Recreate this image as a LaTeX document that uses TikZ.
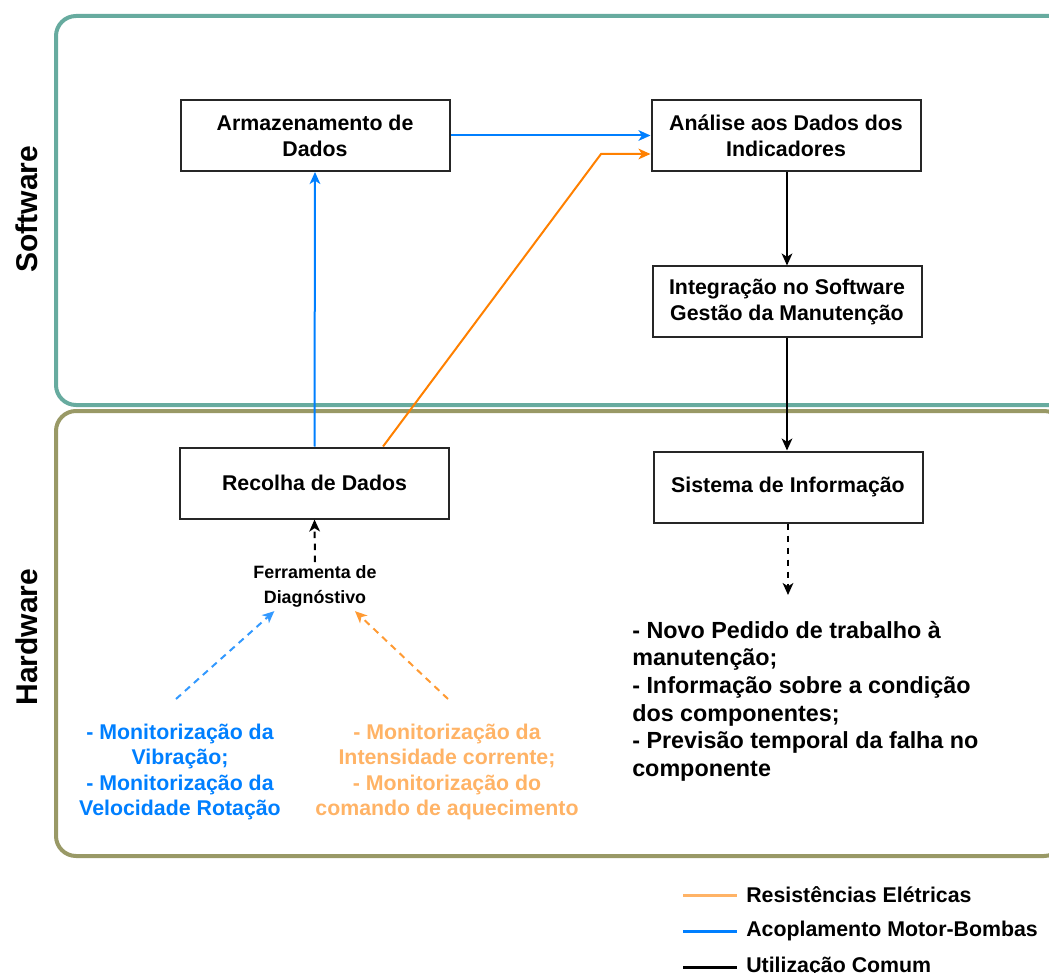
\documentclass[tikz,border=0pt]{standalone}
\usepackage{fontspec}
\setmainfont{Liberation Sans}
\usetikzlibrary{arrows.meta,calc}
\definecolor{swteal}{HTML}{67AB9F}
\definecolor{hwolive}{HTML}{999966}
\definecolor{acblue}{HTML}{007FFF}
\definecolor{dashblue}{HTML}{3399FF}
\definecolor{reorange}{HTML}{FF8000}
\definecolor{relight}{HTML}{FFB366}
\definecolor{boxline}{HTML}{262626}

\begin{document}
\begin{tikzpicture}[x=0.75pt,y=-0.75pt,
  container/.style={line width=3pt, rounded corners=15pt},
  stepbox/.style={draw=boxline, line width=1.5pt, minimum width=201.75pt,
    minimum height=53.25pt, align=center, inner sep=0pt,
    font=\fontsize{16}{19.5}\selectfont\bfseries},
  tipstyle/.style={-{Stealth[length=9pt,width=8pt,inset=2.5pt]}},
  flow/.style={line width=1.5pt, tipstyle},
  dflow/.style={line width=1.5pt, tipstyle, dash pattern=on 5pt off 4pt},
  sidelabel/.style={rotate=90, font=\fontsize{22.5}{27}\selectfont\bfseries},
  listtext/.style={align=center, inner sep=0pt, font=\fontsize{16}{19}\selectfont\bfseries},
  legendline/.style={line width=2.25pt},
  legendtext/.style={anchor=west, inner sep=0pt, font=\fontsize{16}{19}\selectfont\bfseries}
]
\useasboundingbox (0,0) rectangle (1049,973);

% layer containers
\draw[container, swteal] (56,16) rectangle (1085,405);
\draw[container, hwolive] (56,411) rectangle (1064,856);

\node[sidelabel] (swlabel) at (27,209) {Software};
\node[sidelabel] (hwlabel) at (27,637) {Hardware};

% process boxes
\node[stepbox] (arm) at (315,135.5) {Armazenamento de\\Dados};
\node[stepbox] (ana) at (786,135.5) {Análise aos Dados dos\\Indicadores};
\node[stepbox] (int) at (787,302) {Integração no Software\\Gestão da Manutenção};
\node[stepbox] (rec) at (314.5,483) {Recolha de Dados};
\node[stepbox] (sis) at (788,487) {Sistema de Informação};

\node[align=center, inner sep=2pt, font=\fontsize{13.4}{18.75}\selectfont\bfseries]
  (fer) at (315,586) {Ferramenta de\\Diagnóstivo};

\node[listtext, text=acblue] (vib) at (180,772)
  {- Monitorização da\\Vibração;\\- Monitorização da\\Velocidade Rotação};
\node[listtext, text=relight] (cor) at (447,772)
  {- Monitorização da\\Intensidade corrente;\\- Monitorização do\\comando de aquecimento};

\node[anchor=north west, align=left, inner sep=0pt,
  font=\fontsize{17.5}{20.7}\selectfont\bfseries] (out) at (632,621)
  {- Novo Pedido de trabalho à\\manutenção;\\- Informação sobre a condição\\dos componentes;\\- Previsão temporal da falha no\\componente};

% connector points
\coordinate (bend) at (601,154);
\coordinate (vibstart) at (176,699);
\coordinate (corstart) at (448,699);
\coordinate (outtip) at (788,595);

% connectors
\draw[flow, acblue] (arm.east) -- (ana.west);
\draw[flow, acblue] (rec.north) -- (arm.south);
\draw[flow, reorange] ([xshift=51.4pt]rec.north) -- (bend) -- (bend -| ana.west);
\draw[flow, black] (ana.south -| int.north) -- (int.north);
\draw[flow, black] (int.south) -- (int.south |- sis.north);
\draw[dflow, black] (sis.south) -- (outtip);
\draw[dflow, black] (fer.north) -- (rec.south);
\draw[dflow, dashblue] (vibstart) -- ([xshift=-30.5pt,yshift=-1pt]fer.south);
\draw[dflow, reorange!80!white] (corstart) -- ([xshift=30pt,yshift=-1pt]fer.south);

% legend
\coordinate (l1a) at (683,895); \coordinate (l1b) at (737,895);
\coordinate (l2a) at (683,931); \coordinate (l2b) at (737,931);
\coordinate (l3a) at (683,967); \coordinate (l3b) at (737,967);
\draw[legendline, relight] (l1a) -- (l1b);
\draw[legendline, acblue] (l2a) -- (l2b);
\draw[legendline, black] (l3a) -- (l3b);
\node[legendtext] (lg1) at (746,895) {Resistências Elétricas};
\node[legendtext] (lg2) at (746,931) {Acoplamento Motor-Bombas};
\node[legendtext] (lg3) at (746,967) {Utilização Comum};
\end{tikzpicture}
\end{document}
